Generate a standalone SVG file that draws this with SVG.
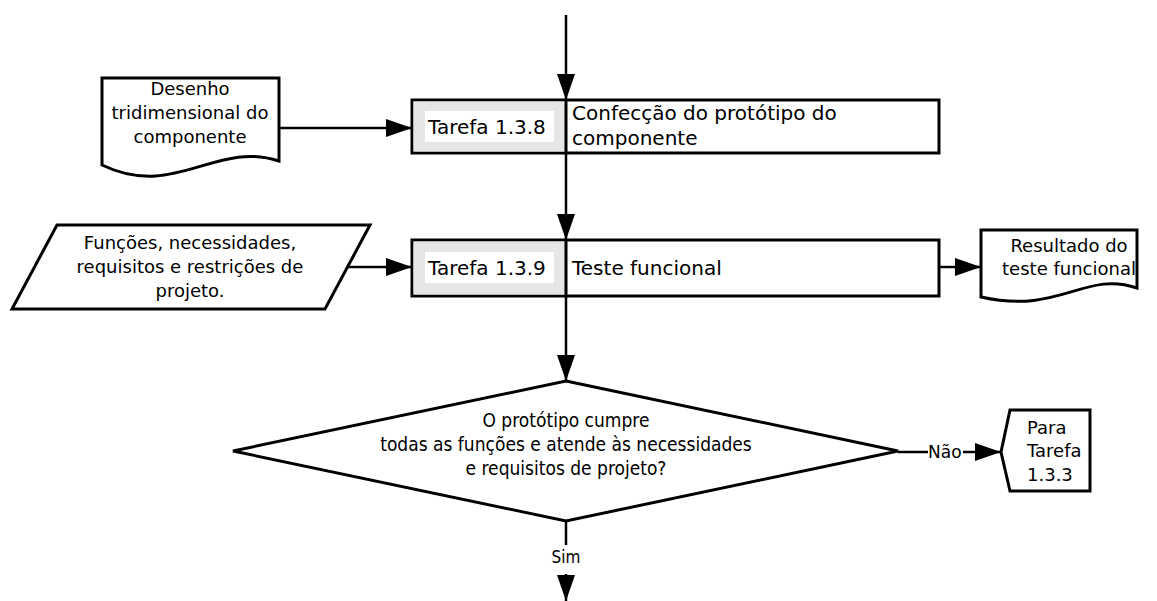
<svg xmlns="http://www.w3.org/2000/svg" width="1157" height="601" viewBox="0 0 1157 601">
<defs>
<marker id="ah" markerWidth="26" markerHeight="18" refX="26" refY="9" orient="auto" markerUnits="userSpaceOnUse">
<path d="M0,0 L26,9 L0,18 Z" fill="#000"/>
</marker>
<style>
.sh{fill:#fff;stroke:#000;stroke-width:3;stroke-linejoin:miter}
.gray{fill:#e6e6e6;stroke:none}
.lab{fill:#fff;stroke:none}
.ln{fill:none;stroke:#000;stroke-width:2.5}
.t{font-family:"DejaVu Sans",Verdana,sans-serif;font-size:20px;fill:#000}
.s{font-family:"DejaVu Sans",Verdana,sans-serif;font-size:18px;fill:#000}
.c{font-family:"DejaVu Sans Condensed","DejaVu Sans",sans-serif;font-size:19px;fill:#000}
</style>
</defs>
<rect width="1157" height="601" fill="#fff"/>

<g id="connectors">
<line class="ln" x1="566" y1="15" x2="566" y2="100" marker-end="url(#ah)"/>
<line class="ln" x1="279" y1="128" x2="412" y2="128" marker-end="url(#ah)"/>
<line class="ln" x1="566" y1="153" x2="566" y2="240" marker-end="url(#ah)"/>
<line class="ln" x1="348" y1="267" x2="412" y2="267" marker-end="url(#ah)"/>
<line class="ln" x1="939" y1="267" x2="981" y2="267" marker-end="url(#ah)"/>
<line class="ln" x1="566" y1="296" x2="566" y2="381" marker-end="url(#ah)"/>
<line class="ln" x1="898" y1="452" x2="928" y2="452"/>
<line class="ln" x1="963" y1="452" x2="1001" y2="452" marker-end="url(#ah)"/>
<text class="s" x="928" y="458" style="font-size:17px">Não</text>
<line class="ln" x1="566" y1="520" x2="566" y2="545"/>
<text class="c" x="566" y="563" text-anchor="middle" style="font-size:17px">Sim</text>
<line class="ln" x1="566" y1="574" x2="566" y2="601" marker-end="url(#ah)"/>
</g>

<g id="doc-desenho">
<path class="sh" d="M102,78 H279 V161 C215,140 175,200 102,165 Z"/>
<text class="s" x="190" y="95" text-anchor="middle">Desenho</text>
<text class="s" x="190" y="119" text-anchor="middle">tridimensional do</text>
<text class="s" x="190" y="143" text-anchor="middle">componente</text>
</g>

<g id="task-138">
<rect class="sh" x="412" y="100" width="527" height="53"/>
<rect class="gray" x="413.5" y="101.5" width="152" height="50"/>
<rect class="lab" x="425" y="111" width="129" height="31"/>
<line class="ln" x1="566" y1="100" x2="566" y2="153" style="stroke-width:3"/>
<text class="t" x="428" y="134">Tarefa 1.3.8</text>
<text class="t" x="572" y="120">Confecção do protótipo do</text>
<text class="t" x="572" y="145">componente</text>
</g>

<g id="input-funcoes">
<path class="sh" d="M57,225 H370 L325,309 H12 Z"/>
<text class="s" x="190" y="249" text-anchor="middle">Funções, necessidades,</text>
<text class="s" x="190" y="273" text-anchor="middle">requisitos e restrições de</text>
<text class="s" x="190" y="297" text-anchor="middle">projeto.</text>
</g>

<g id="task-139">
<rect class="sh" x="412" y="240" width="527" height="56"/>
<rect class="gray" x="413.5" y="241.5" width="152" height="53"/>
<rect class="lab" x="425" y="252" width="129" height="31"/>
<line class="ln" x1="566" y1="240" x2="566" y2="296" style="stroke-width:3"/>
<text class="t" x="428" y="275">Tarefa 1.3.9</text>
<text class="t" x="572" y="275">Teste funcional</text>
</g>

<g id="doc-resultado">
<path class="sh" d="M981,230 H1137 V288 C1085,270 1060,315 981,297 Z"/>
<text class="s" x="1069" y="252" text-anchor="middle">Resultado do</text>
<text class="s" x="1069" y="275" text-anchor="middle">teste funcional</text>
</g>

<g id="decision">
<path class="sh" d="M566,381 L898,451 L566,521 L233,451 Z"/>
<text class="c" x="566" y="427" text-anchor="middle">O protótipo cumpre</text>
<text class="c" x="566" y="451" text-anchor="middle">todas as funções e atende às necessidades</text>
<text class="c" x="566" y="475" text-anchor="middle">e requisitos de projeto?</text>
</g>

<g id="offpage-133">
<path class="sh" d="M1001,452 L1010,410 H1090 V491 H1010 Z"/>
<text class="s" x="1027" y="434">Para</text>
<text class="s" x="1027" y="457">Tarefa</text>
<text class="s" x="1027" y="481">1.3.3</text>
</g>
</svg>
